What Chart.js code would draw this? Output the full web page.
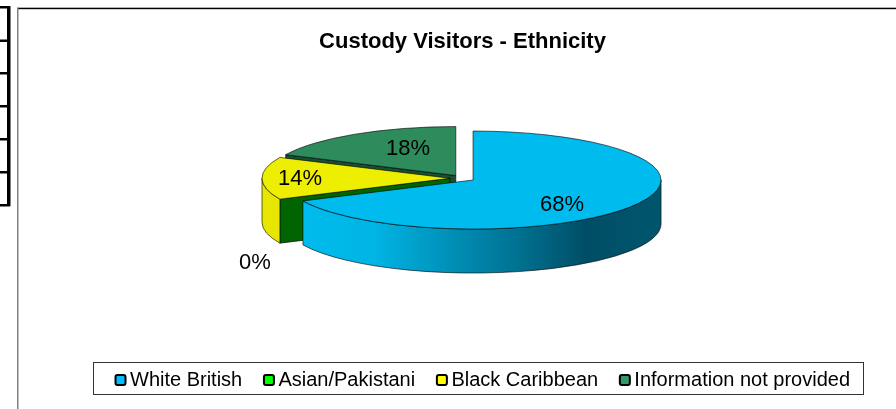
<!DOCTYPE html>
<html>
<head>
<meta charset="utf-8">
<title>Custody Visitors - Ethnicity</title>
<script src="https://cdn.jsdelivr.net/npm/chart.js@4"></script>
<style>
    html, body { margin: 0; padding: 0; background: #fff; overflow: hidden; }
    canvas { display: block; }
</style>
</head>
<body>
<canvas id="pieChart" width="896" height="409"></canvas>
<script>
const categories = ['White British', 'Asian/Pakistani', 'Black Caribbean', 'Information not provided'];
const values = [68, 0, 14, 18];

const topColors = ['#00bbee', '#00ee00', '#eeee00', '#2e8b5c'];
const legendColors = ['#00bfff', '#00ff00', '#ffff00', '#339966'];
const labelSpots = [[562, 205], [255, 263], [300, 179], [408, 149]];

const FONT = '"Liberation Sans", Arial, sans-serif';
const PIE_Y = 178.3;
const SQUASH = 49 / 188;
const DEPTH = 44 / SQUASH;
const EXPLODE = 12.5;

let pivotY = 0;

function squashed(ctx, fn) {
    ctx.save();
    ctx.translate(0, PIE_Y);
    ctx.scale(1, SQUASH);
    ctx.translate(0, -pivotY);
    fn();
    ctx.restore();
}

function fillWall(ctx, buildPath, fill) {
    ctx.beginPath();
    squashed(ctx, buildPath);
    ctx.fillStyle = fill;
    ctx.fill();
    ctx.lineWidth = 1;
    ctx.strokeStyle = 'rgba(0,0,0,0.6)';
    ctx.stroke();
}

function outerWall(ctx, arc, from, to, fill) {
    fillWall(ctx, () => {
        ctx.arc(arc.x, arc.y, arc.outerRadius, from, to);
        ctx.arc(arc.x, arc.y + DEPTH, arc.outerRadius, to, from, true);
        ctx.closePath();
    }, fill);
}

function radialWall(ctx, arc, angle, fill) {
    const ex = arc.x + Math.cos(angle) * arc.outerRadius;
    const ey = arc.y + Math.sin(angle) * arc.outerRadius;
    fillWall(ctx, () => {
        ctx.moveTo(arc.x, arc.y);
        ctx.lineTo(ex, ey);
        ctx.lineTo(ex, ey + DEPTH);
        ctx.lineTo(arc.x, arc.y + DEPTH);
        ctx.closePath();
    }, fill);
}

const pie3d = {
    id: 'pie3d',
    // pull the slices apart here, the offset option also grows the big slice
    afterDatasetsUpdate(chart) {
        const arcs = chart.getDatasetMeta(0).data;
        pivotY = arcs[0].y;
        arcs.forEach(arc => {
            const mid = (arc.startAngle + arc.endAngle) / 2;
            arc.x += Math.cos(mid) * EXPLODE;
            arc.y += Math.sin(mid) * EXPLODE;
        });
    },
    beforeDraw(chart) {
        const ctx = chart.ctx;
        ctx.save();
        ctx.fillStyle = '#fff';
        ctx.fillRect(0, 0, chart.width, chart.height);

        // bits of the table and frame next to the chart
        ctx.fillStyle = '#000';
        ctx.fillRect(7, 6, 3.5, 200);
        [6, 39.5, 72, 105, 138, 171, 204].forEach(y => ctx.fillRect(0, y, 10, 2.5));
        ctx.fillRect(17, 7.7, 879, 1.5);
        ctx.fillStyle = '#808080';
        ctx.fillRect(17, 8, 1.5, 401);
        ctx.restore();
    },
    beforeDatasetsDraw(chart) {
        const ctx = chart.ctx;
        const [blue, zero, yellow, green] = chart.getDatasetMeta(0).data;

        radialWall(ctx, green, green.startAngle, '#174f33');
        radialWall(ctx, yellow, zero.startAngle, '#006400');
        outerWall(ctx, yellow, yellow.startAngle, Math.PI, '#e6e600');

        const shade = ctx.createLinearGradient(303, 0, 661, 0);
        shade.addColorStop(0, '#00bbee');
        shade.addColorStop(0.2, '#00b4e4');
        shade.addColorStop(0.41, '#0090b8');
        shade.addColorStop(0.61, '#00708f');
        shade.addColorStop(0.79, '#004e66');
        shade.addColorStop(1, '#00566e');
        outerWall(ctx, blue, 0, blue.endAngle, shade);

        ctx.save();
        ctx.translate(0, PIE_Y);
        ctx.scale(1, SQUASH);
        ctx.translate(0, -pivotY);
    },
    afterDatasetsDraw(chart) {
        const ctx = chart.ctx;
        ctx.restore();

        chart.getDatasetMeta(0).data.forEach(arc => {
            if (arc.circumference === 0) return;
            ctx.beginPath();
            squashed(ctx, () => {
                ctx.moveTo(arc.x, arc.y);
                ctx.arc(arc.x, arc.y, arc.outerRadius, arc.startAngle, arc.endAngle);
                ctx.closePath();
            });
            ctx.lineWidth = 1;
            ctx.strokeStyle = 'rgba(0,0,0,0.6)';
            ctx.stroke();
        });

        ctx.save();
        ctx.fillStyle = '#000';
        ctx.font = '22px ' + FONT;
        ctx.textAlign = 'center';
        ctx.textBaseline = 'middle';
        values.forEach((v, i) => ctx.fillText(v + '%', labelSpots[i][0], labelSpots[i][1]));
        ctx.restore();
    },
    afterDraw(chart) {
        const ctx = chart.ctx;
        ctx.save();
        ctx.strokeStyle = '#333';
        ctx.lineWidth = 1;
        ctx.strokeRect(93.5, 362.5, 770, 32);

        ctx.font = '20px ' + FONT;
        ctx.textAlign = 'left';
        ctx.textBaseline = 'alphabetic';
        let x = 115.5;
        categories.forEach((name, i) => {
            ctx.beginPath();
            ctx.roundRect(x, 375, 10, 10, 2);
            ctx.fillStyle = legendColors[i];
            ctx.fill();
            ctx.lineWidth = 2;
            ctx.strokeStyle = '#000';
            ctx.stroke();
            ctx.fillStyle = '#000';
            ctx.fillText(name, x + 14.5, 386);
            x += 14.5 + ctx.measureText(name).width + 21.7;
        });
        ctx.restore();
    }
};

new Chart(document.getElementById('pieChart').getContext('2d'), {
    type: 'pie',
    data: {
        labels: categories,
        datasets: [{
            data: values,
            backgroundColor: topColors,
            borderWidth: 0,
            clip: false
        }]
    },
    options: {
        responsive: false,
        animation: false,
        events: [],
        radius: 188,
        layout: { padding: { left: 29, top: 10 } },
        plugins: {
            legend: { display: false },
            tooltip: { enabled: false },
            title: {
                display: true,
                text: 'Custody Visitors - Ethnicity',
                color: '#000',
                font: { family: FONT, size: 22, weight: 'bold' },
                padding: { top: 19, bottom: 10 }
            }
        }
    },
    plugins: [pie3d]
});
</script>
</body>
</html>
